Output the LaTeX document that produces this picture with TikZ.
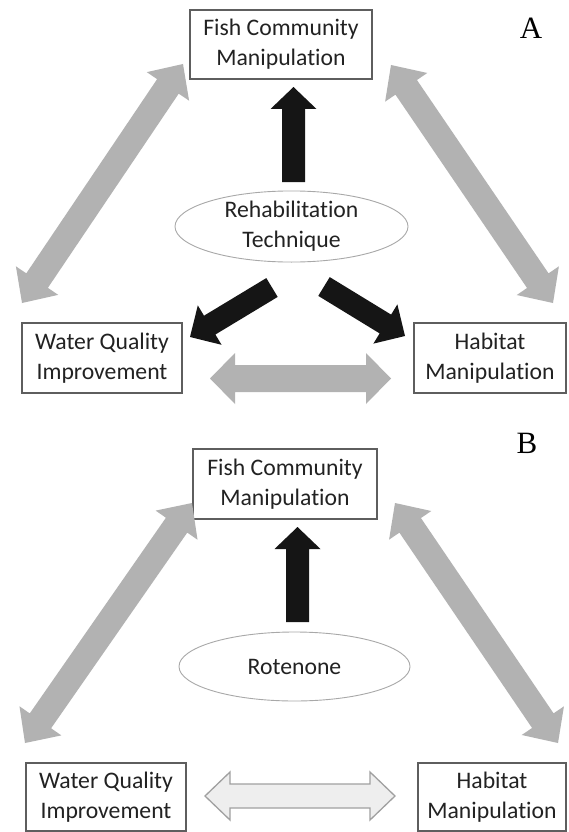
\documentclass[tikz,border=0pt]{standalone}
\usepackage{fontspec}
\setmainfont[Ligatures={NoCommon}]{Carlito}
\newfontfamily\lblfont{Liberation Serif}
\usetikzlibrary{calc,shapes.geometric}
\definecolor{arrgray}{HTML}{B2B2B2}
\definecolor{arrblack}{HTML}{151515}
\definecolor{boxgray}{HTML}{5E5E5E}
\definecolor{ellgray}{HTML}{A8A8A8}
\definecolor{txt}{HTML}{222222}
\definecolor{lightfill}{HTML}{EEEEEE}
\definecolor{lightdraw}{HTML}{A0A0A0}
% single-headed block arrow: style, tail, tip, shaft half width, head half width, head length
\newcommand\mysinglearrow[6]{%
  \coordinate (sa-h) at ($(#3)!#6!(#2)$);
  \path[#1] ($(#2)!#4!90:(#3)$) -- ($(sa-h)!#4!-90:(#2)$) -- ($(sa-h)!#5!-90:(#2)$) -- (#3)
    -- ($(sa-h)!#5!90:(#2)$) -- ($(sa-h)!#4!90:(#2)$) -- ($(#2)!#4!-90:(#3)$) -- cycle;
}
% double-headed block arrow: style, tip a, tip b, shaft half width, head half width, head length
\newcommand\mydoublearrow[6]{%
  \coordinate (da-a) at ($(#2)!#6!(#3)$);
  \coordinate (da-b) at ($(#3)!#6!(#2)$);
  \path[#1] (#2) -- ($(da-a)!#5!90:(#3)$) -- ($(da-a)!#4!90:(#3)$) -- ($(da-b)!#4!-90:(#2)$)
    -- ($(da-b)!#5!-90:(#2)$) -- (#3) -- ($(da-b)!#5!90:(#2)$) -- ($(da-b)!#4!90:(#2)$)
    -- ($(da-a)!#4!-90:(#3)$) -- ($(da-a)!#5!-90:(#3)$) -- cycle;
}
\tikzset{
  box/.style={draw=boxgray, line width=1.1pt, fill=white, inner sep=0pt, align=center,
    font=\fontsize{23.7}{30}\selectfont, text=txt},
  oval/.style={ellipse, draw=ellgray, line width=0.9pt, fill=white, inner sep=0pt, align=center,
    font=\fontsize{23.7}{30}\selectfont, text=txt},
  panellabel/.style={font=\lblfont\fontsize{31}{32}\selectfont, text=black, inner sep=0pt},
  grayarrow/.style={fill=arrgray},
  blackarrow/.style={fill=arrblack},
  lightarrow/.style={fill=lightfill, draw=lightdraw, line width=1.3pt, line join=miter},
}
\begin{document}
\begin{tikzpicture}[x=1pt,y=-1pt]
\useasboundingbox[fill=white] (0,0) rectangle (568,832);

% ---------------- Panel A ----------------
\node[panellabel] (labA) at (531,28) {A};
\node[box, minimum width=182pt, minimum height=69pt] (fishA) at (281,44.5) {Fish Community\\Manipulation};
\node[box, minimum width=160pt, minimum height=70pt] (waterA) at (102,358) {Water Quality\\Improvement};
\node[box, minimum width=152pt, minimum height=70pt] (habA) at (490,358) {Habitat\\Manipulation};
\node[oval, minimum width=233pt, minimum height=69pt] (techA) at (291.5,226.5) {Rehabilitation\\Technique};

\coordinate (upA-t) at (293.5,182);
\coordinate (upA-h) at (293.5,87);
\coordinate (leA-t) at (272,287.5);
\coordinate (leA-h) at (190,337);
\coordinate (riA-t) at (324,286.5);
\coordinate (riA-h) at (405,336);
\coordinate (glA-1) at (22,303);
\coordinate (glA-2) at (183,64);
\coordinate (grA-1) at (391,65);
\coordinate (grA-2) at (553,303);
\coordinate (ghA-1) at (210,378.5);
\coordinate (ghA-2) at (391,378.5);

\mysinglearrow{blackarrow}{upA-t}{upA-h}{11.5pt}{23pt}{22pt}
\mysinglearrow{blackarrow}{leA-t}{leA-h}{11pt}{23pt}{23pt}
\mysinglearrow{blackarrow}{riA-t}{riA-h}{11pt}{23pt}{23pt}
\mydoublearrow{grayarrow}{glA-1}{glA-2}{13pt}{25.5pt}{27pt}
\mydoublearrow{grayarrow}{grA-1}{grA-2}{13pt}{25.5pt}{27pt}
\mydoublearrow{grayarrow}{ghA-1}{ghA-2}{13.5pt}{25.5pt}{25pt}

% ---------------- Panel B ----------------
\node[panellabel] (labB) at (527,443) {B};
\node[box, minimum width=184pt, minimum height=70pt] (fishB) at (285,484) {Fish Community\\Manipulation};
\node[box, minimum width=160pt, minimum height=68pt] (waterB) at (106,797) {Water Quality\\Improvement};
\node[box, minimum width=148pt, minimum height=68pt] (habB) at (492,797) {Habitat\\Manipulation};
\node[oval, minimum width=231pt, minimum height=69pt] (rotB) at (294.5,666.5) {Rotenone};

\coordinate (upB-t) at (297.5,622);
\coordinate (upB-h) at (297.5,527);
\coordinate (glB-1) at (25,743);
\coordinate (glB-2) at (192,503);
\coordinate (grB-1) at (395,503);
\coordinate (grB-2) at (558,743);
\coordinate (ghB-1) at (205,796);
\coordinate (ghB-2) at (395,796);

\mysinglearrow{blackarrow}{upB-t}{upB-h}{11.5pt}{23pt}{22pt}
\mydoublearrow{grayarrow}{glB-1}{glB-2}{13pt}{25.5pt}{27pt}
\mydoublearrow{grayarrow}{grB-1}{grB-2}{13pt}{25.5pt}{27pt}
\mydoublearrow{lightarrow}{ghB-1}{ghB-2}{12pt}{24pt}{25pt}
\end{tikzpicture}
\end{document}
